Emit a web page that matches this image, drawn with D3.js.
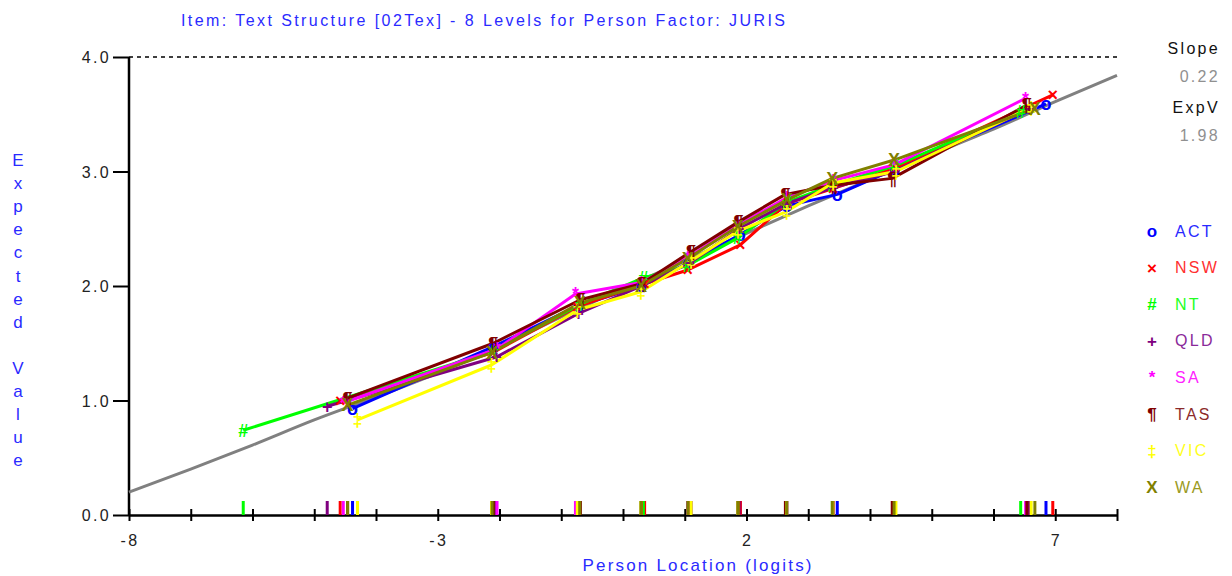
<!DOCTYPE html>
<html><head><meta charset="utf-8">
<script src="https://cdn.jsdelivr.net/npm/d3@7"></script>
<style>body{margin:0;background:#fff;} svg{display:block;font-family:"Liberation Sans",Arial,sans-serif;} .ls{letter-spacing:2.3px;}</style>
</head><body><svg id="c" width="1232" height="576"></svg>
<script>
// ---- data ----
const groups = ["ACT","NSW","NT","QLD","SA","TAS","VIC","WA"];
const groupColors = ["#0000ff","#ff0000","#00ff00","#800080","#ff00ff","#800000","#ffff00","#808000"];
const groupSymbols = ["o","×","#","+","*","¶","‡","X"];
// observed class-interval means: [location, expected value]
const ACT = [[-4.38,0.93],[-2.10,1.47],[-0.72,1.83],[0.30,2.00],[1.05,2.20],[1.90,2.45],[2.65,2.70],[3.47,2.80],[4.40,3.02],[6.85,3.59]];
const NSW = [[-4.58,1.00],[-2.10,1.42],[-0.74,1.82],[0.35,2.02],[1.05,2.14],[1.90,2.36],[2.65,2.72],[3.40,2.85],[4.40,3.03],[6.96,3.67]];
const NT  = [[-6.15,0.74],[-2.10,1.43],[-0.70,1.84],[0.33,2.07],[1.05,2.18],[1.86,2.42],[2.65,2.73],[3.39,2.88],[4.40,3.05],[6.44,3.52]];
const QLD = [[-4.79,0.95],[-2.05,1.38],[-0.72,1.76],[0.30,2.00],[1.08,2.20],[1.88,2.50],[2.65,2.72],[3.40,2.86],[4.40,3.00],[6.58,3.55]];
const SA  = [[-4.53,0.98],[-2.04,1.45],[-0.77,1.93],[0.30,2.03],[1.05,2.25],[1.86,2.53],[2.65,2.77],[3.40,2.92],[4.40,3.06],[6.52,3.64]];
const TAS = [[-4.46,1.02],[-2.10,1.50],[-0.69,1.88],[0.30,2.02],[1.10,2.30],[1.87,2.56],[2.63,2.80],[3.40,2.88],[4.36,2.94],[6.54,3.58]];
const VIC = [[-4.30,0.83],[-2.13,1.31],[-0.74,1.79],[0.29,1.95],[1.10,2.22],[1.86,2.48],[2.65,2.65],[3.40,2.90],[4.42,3.00],[6.61,3.56]];
const WA  = [[-4.46,0.96],[-2.12,1.42],[-0.70,1.85],[0.29,2.00],[1.05,2.24],[1.86,2.52],[2.65,2.75],[3.39,2.94],[4.39,3.10],[6.67,3.55]];
const seriesData = [ACT,NSW,NT,QLD,SA,TAS,VIC,WA];
// theoretical expected value curve, read at integer logits
const curveX = [-8,-7,-6,-5,-4,-3,-2,-1,0,1,2,3,4,5,6,7,8];
const curveY = [0.20,0.40,0.61,0.83,1.03,1.24,1.47,1.73,1.98,2.22,2.46,2.70,2.93,3.15,3.37,3.61,3.84];
const xTickLabels = [-8,-3,2,7];
const yTickLabels = [0,1,2,3,4];
const titleText = "Item: Text Structure [02Tex] - 8 Levels for Person Factor: JURIS";
const slopeVal = "0.22", expVVal = "1.98";

// ---- drawing ----
const svg = d3.select("#c");
const x = d3.scaleLinear().domain([-8,8]).range([129,1117]);
const y = d3.scaleLinear().domain([0,4]).range([515,57]);

svg.append("text").attr("x",483).attr("y",26).attr("text-anchor","middle")
  .attr("fill","#2a2aff").style("font-size","16px").attr("textLength",604).attr("lengthAdjust","spacing").text(titleText);

// dashed max line
svg.append("line").attr("x1",x(-8)).attr("x2",x(8)).attr("y1",y(4)).attr("y2",y(4))
  .attr("stroke","#000").attr("stroke-width",1.3).attr("stroke-dasharray","4,4");

// x axis
const xAxis = d3.axisBottom(x).tickValues(d3.range(-8,9,1)).tickSize(0).tickFormat("");
const gx = svg.append("g").attr("transform","translate(0,515)").call(xAxis);
gx.select(".domain").attr("stroke","#000").attr("stroke-width",2.5);
gx.selectAll(".tick line").attr("y1",-6).attr("y2",6).attr("stroke","#000").attr("stroke-width",2);
svg.append("g").selectAll("text").data(xTickLabels).join("text").attr("class","ls")
  .attr("x",d=>x(d)+1).attr("y",546).attr("text-anchor","middle").attr("fill","#222")
  .style("font-size","16px").text(d=>d);

// y axis
const yAxis = d3.axisLeft(y).tickValues(yTickLabels).tickSize(16).tickPadding(2).tickFormat(d3.format(".1f"));
const gy = svg.append("g").attr("transform","translate(129,0)").call(yAxis);
gy.select(".domain").attr("stroke","#000").attr("stroke-width",2.5).attr("d","M0,"+y(4)+"V"+y(0));
gy.selectAll(".tick line").attr("stroke","#000").attr("stroke-width",2);
gy.selectAll(".tick text").attr("class","ls").attr("fill","#222").style("font-size","16px").attr("dy","0.35em");

// axis titles
svg.append("text").attr("x",697).attr("y",571).attr("text-anchor","middle")
  .attr("fill","#2a2aff").style("font-size","17px").attr("textLength",229).attr("lengthAdjust","spacing").text("Person Location (logits)");
const yLab = "Expected Value".split("");
svg.append("g").selectAll("text").data(yLab).join("text")
  .attr("x",18).attr("y",(d,i)=>166+i*23.1).attr("text-anchor","middle")
  .attr("fill","#2a2aff").style("font-size","17px").text(d=>d);

// theoretical curve
const line = d3.line().x(d=>x(d[0])).y(d=>y(d[1]));
svg.append("path").datum(curveX.map((v,i)=>[v,curveY[i]]))
  .attr("d",line.curve(d3.curveMonotoneX)).attr("fill","none").attr("stroke","#808080").attr("stroke-width",3);

const lineLin = d3.line().x(d=>x(d[0])).y(d=>y(d[1]));
// rug marks
seriesData.forEach((s,gi)=>{
  svg.append("g").selectAll("line").data(s).join("line")
    .attr("x1",d=>x(d[0])).attr("x2",d=>x(d[0])).attr("y1",501).attr("y2",515)
    .attr("stroke",groupColors[gi]).attr("stroke-width",3);
});
// group lines
seriesData.forEach((s,gi)=>{
  svg.append("path").datum(s).attr("d",lineLin).attr("fill","none")
    .attr("stroke",groupColors[gi]).attr("stroke-width",3).attr("stroke-linejoin","round");
});
// symbols
seriesData.forEach((s,gi)=>{
  svg.append("g").selectAll("text").data(s).join("text")
    .attr("x",d=>x(d[0])).attr("y",d=>y(d[1])).attr("dy","0.35em").attr("text-anchor","middle")
    .attr("fill",groupColors[gi]).style("font-size","18px").style("font-weight","bold").text(groupSymbols[gi]);
});

// right panel
const rp = svg.append("g");
rp.append("text").attr("x",1220).attr("y",54).attr("text-anchor","end").attr("class","ls").attr("fill","#111").style("font-size","16px").text("Slope");
rp.append("text").attr("x",1220).attr("y",82).attr("text-anchor","end").attr("class","ls").attr("fill","#909090").style("font-size","16px").text(slopeVal);
rp.append("text").attr("x",1220).attr("y",113).attr("text-anchor","end").attr("class","ls").attr("fill","#111").style("font-size","16px").text("ExpV");
rp.append("text").attr("x",1220).attr("y",141).attr("text-anchor","end").attr("class","ls").attr("fill","#909090").style("font-size","16px").text(expVVal);

const legendColors = ["#2a2aff","#ff3030","#22ff22","#8a2a9a","#ff22ff","#8b2a2a","#ffff22","#9a9a22"];
const lg = svg.append("g").selectAll("g").data(groups).join("g")
  .attr("transform",(d,i)=>`translate(0,${231+i*36.6})`);
lg.append("text").attr("x",1152).attr("dy","0.35em").attr("text-anchor","middle")
  .attr("fill",(d,i)=>groupColors[i]).style("font-size","17px").style("font-weight","bold").text((d,i)=>groupSymbols[i]);
lg.append("text").attr("x",1175).attr("dy","0.35em").attr("class","ls")
  .attr("fill",(d,i)=>legendColors[i]).style("font-size","16px").text(d=>d);
</script></body></html>
